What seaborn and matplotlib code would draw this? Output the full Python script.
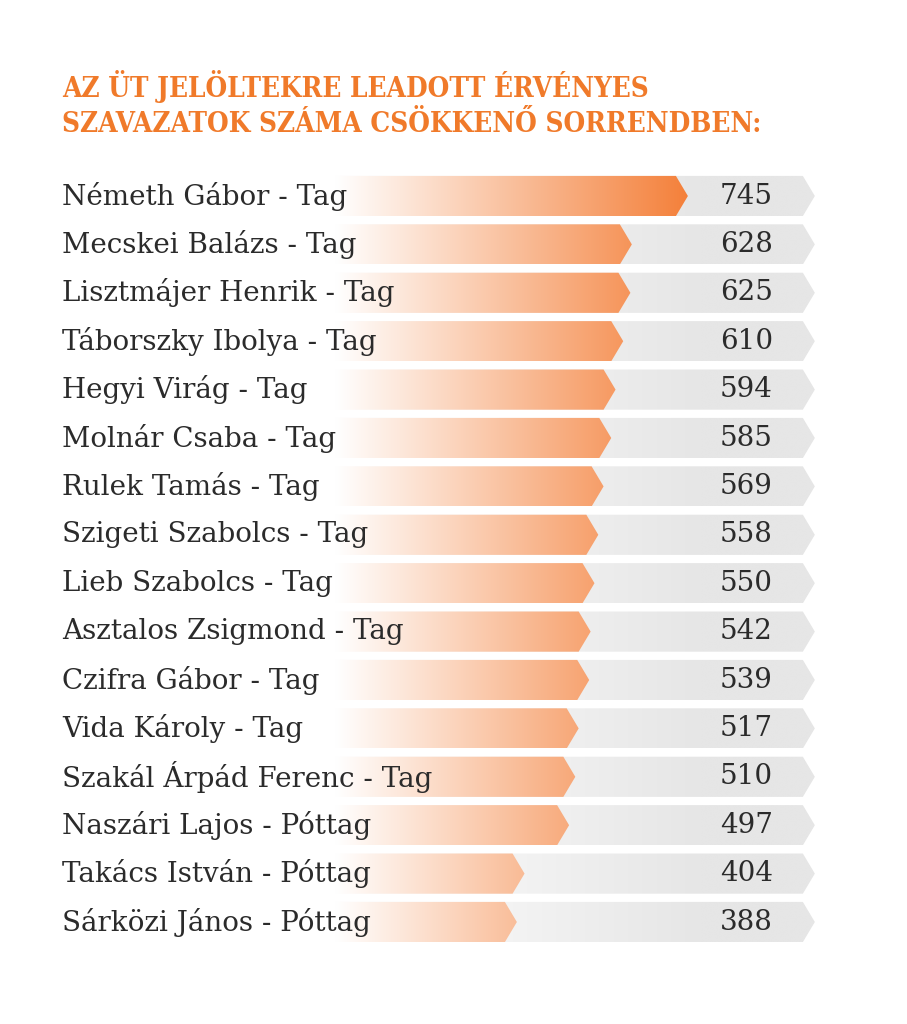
import matplotlib
matplotlib.use('Agg')
import matplotlib.pyplot as plt
import matplotlib.transforms as mtransforms
from matplotlib.patches import Polygon
from matplotlib.colors import to_rgb
import numpy as np
import pandas as pd
import seaborn as sns

# Adatok
names = [
    "Németh Gábor - Tag", "Mecskei Balázs - Tag", "Lisztmájer Henrik - Tag",
    "Táborszky Ibolya - Tag", "Hegyi Virág - Tag", "Molnár Csaba - Tag",
    "Rulek Tamás - Tag", "Szigeti Szabolcs - Tag", "Lieb Szabolcs - Tag",
    "Asztalos Zsigmond - Tag", "Czifra Gábor - Tag", "Vida Károly - Tag",
    "Szakál Árpád Ferenc - Tag", "Naszári Lajos - Póttag",
    "Takács István - Póttag", "Sárközi János - Póttag",
]
votes = [745, 628, 625, 610, 594, 585, 569, 558, 550, 542, 539, 517, 510, 497, 404, 388]

title_lines = ["AZ ÜT JELÖLTEKRE LEADOTT ÉRVÉNYES",
               "SZAVAZATOK SZÁMA CSÖKKENŐ SORRENDBEN:"]

ORANGE = '#F4803A'
GREY = '#E6E6E6'
TEXT = '#2B2B2B'
TITLE = '#F07A2A'
TRACK = 1010   # szürke sáv hossza (adategységben)
TIP = 25       # nyíl hegyének mélysége
XMAX = 1050

sns.set_theme(style='white')
plt.rcParams['font.family'] = ['DejaVu Serif']

df = pd.DataFrame({'name': names, 'votes': votes})

W, H = 907, 1024
fig = plt.figure(figsize=(W / 100, H / 100), dpi=100)
ax = fig.add_axes([331 / W, 1 - 946.2 / H, 503 / W, 774.4 / H])

sns.barplot(data=df, x='votes', y='name', orient='h', color=ORANGE,
            width=0.83, ax=ax)
bars = list(ax.patches)

xs = np.linspace(0, XMAX, 900)


def ramp(color, x_start, x_end):
    t = np.clip((xs - x_start) / (x_end - x_start), 0, 1)
    rgb = 1 + t[:, None] * (np.array(to_rgb(color)) - 1)
    return rgb[None, :, :]


def chevron(x0, x1, y0, h):
    return [(x0, y0), (x1 - TIP, y0), (x1, y0 + h / 2),
            (x1 - TIP, y0 + h), (x0, y0 + h)]


grey_img = ramp(GREY, 20, 770)
orange_img = ramp(ORANGE, 10, 745)

for bar in bars:
    x0, y0 = bar.get_x(), bar.get_y()
    w, h = bar.get_width(), bar.get_height()
    bar.set_visible(False)

    # szürke háttérsáv
    track = Polygon(chevron(0, TRACK, y0, h), closed=True, facecolor='none',
                    edgecolor='none', transform=ax.transData)
    ax.add_patch(track)
    im = ax.imshow(grey_img, extent=(0, XMAX, y0 + h, y0), aspect='auto',
                   interpolation='bilinear', zorder=1)
    im.set_clip_path(track)

    # narancs sáv
    poly = Polygon(chevron(x0, x0 + w, y0, h), closed=True, facecolor='none',
                   edgecolor='none', transform=ax.transData)
    ax.add_patch(poly)
    im = ax.imshow(orange_img, extent=(0, XMAX, y0 + h, y0), aspect='auto',
                   interpolation='bilinear', zorder=2)
    im.set_clip_path(poly)

ax.set_xlim(0, XMAX)
ax.set_ylim(len(names) - 0.5, -0.5)
ax.axis('off')

trans = mtransforms.blended_transform_factory(fig.transFigure, ax.transData)
for bar, name, v in zip(bars, names, votes):
    yc = bar.get_y() + bar.get_height() / 2
    ax.text(62 / W, yc, name, transform=trans, ha='left', va='center',
            fontsize=20, color=TEXT, zorder=5)
    ax.text(773 / W, yc, f"{v}", transform=trans, ha='right', va='center',
            fontsize=20, color=TEXT, zorder=5)

fig.text(62 / W, 1 - 97 / H, title_lines[0], ha='left', va='baseline',
         fontsize=20, fontweight='bold', fontstretch='condensed', color=TITLE)
fig.text(62 / W, 1 - 132 / H, title_lines[1], ha='left', va='baseline',
         fontsize=20, fontweight='bold', fontstretch='condensed', color=TITLE)

fig.savefig('out.png', dpi=100, facecolor='white')
